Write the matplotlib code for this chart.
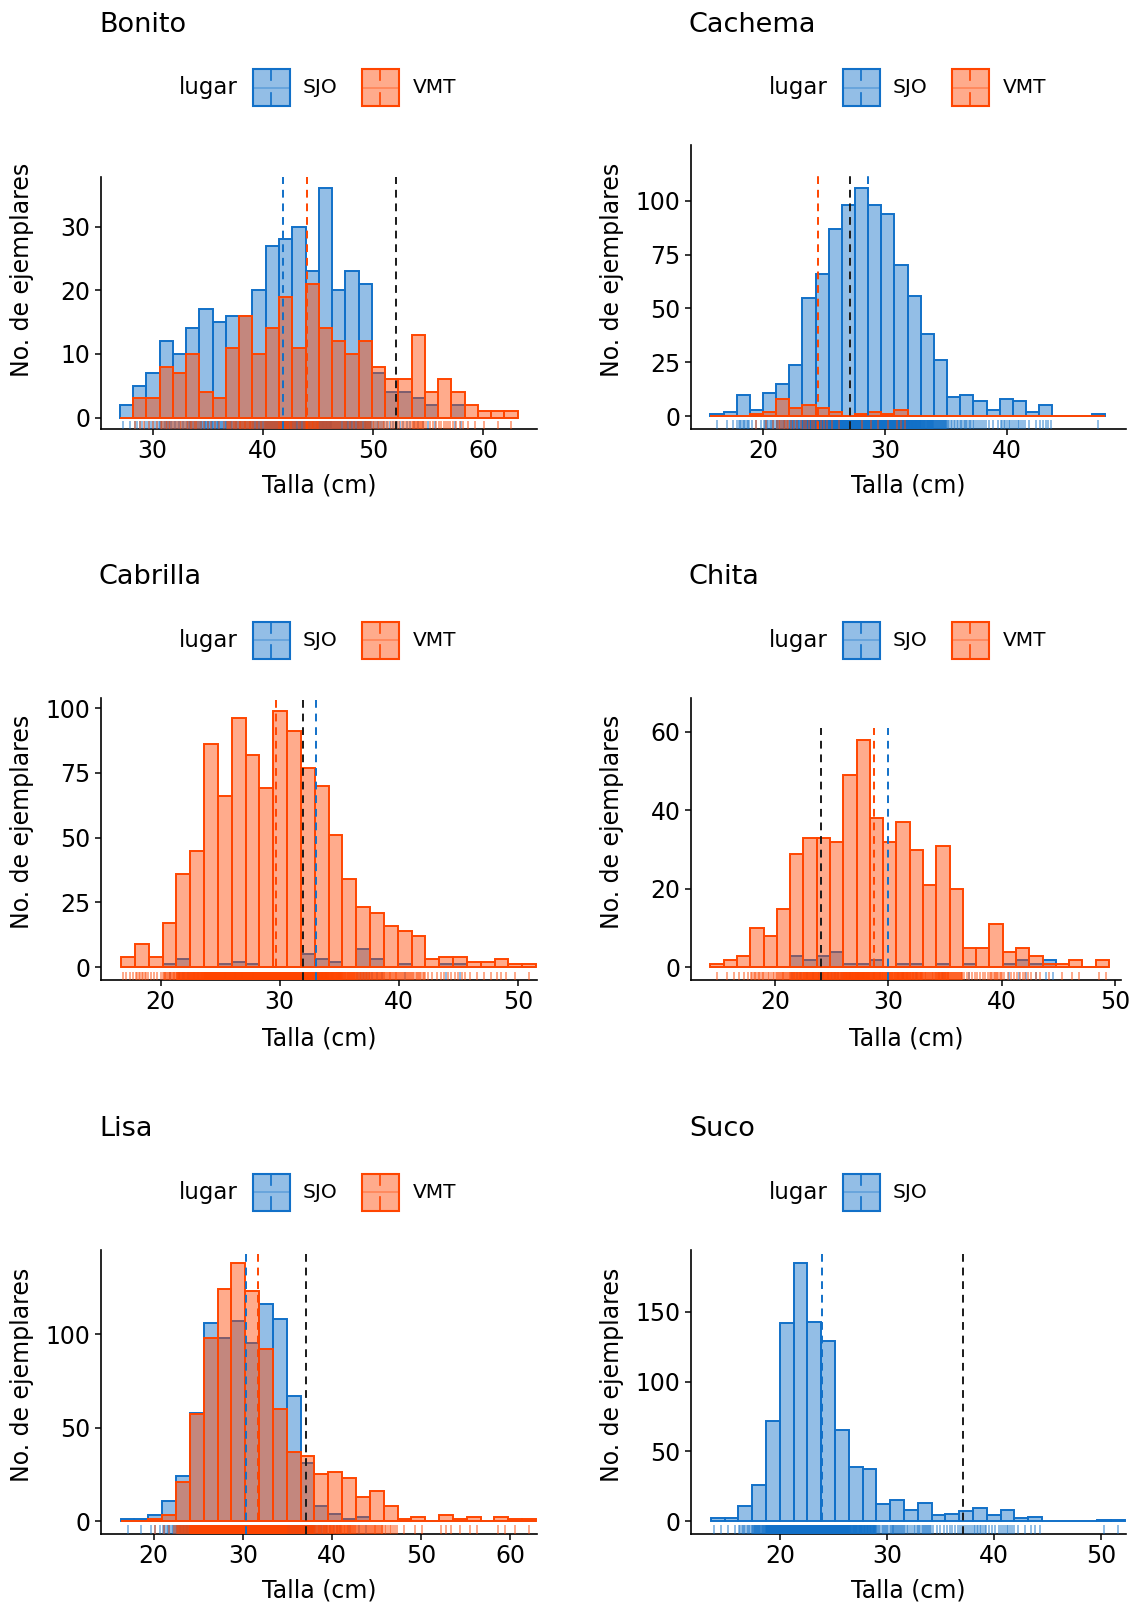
"""
Histogramas de talla por especie y lugar (SJO / VMT)
"""
import numpy as np
import matplotlib.pyplot as plt
from matplotlib.patches import Rectangle
from matplotlib.lines import Line2D

plt.rcParams['font.family'] = ['DejaVu Sans']

W, H = 1132, 1603  # px

especies = ['Bonito', 'Cachema', 'Cabrilla', 'Chita', 'Lisa', 'Suco']

# 30 bins per panel: left edge of the first bin and bin width (cm)
bin_inicio = [27.02, 15.64, 16.69, 14.31, 16.30, 13.55]
bin_ancho = [1.204, 1.081, 1.161, 1.171, 1.553, 1.288]

conteo_sjo = {
    'Bonito':   [2, 5, 7, 12, 10, 14, 17, 15, 16, 16, 20, 27, 28, 30, 23,
                 36, 20, 23, 21, 7, 4, 4, 3, 2, 0, 2, 0, 0, 0, 0],
    'Cachema':  [1, 2, 10, 3, 11, 15, 24, 55, 66, 87, 98, 106, 98, 94, 70,
                 56, 38, 26, 9, 10, 7, 3, 8, 7, 2, 5, 0, 0, 0, 1],
    'Cabrilla': [0, 0, 0, 1, 3, 0, 0, 1, 2, 1, 0, 0, 0, 5, 3,
                 2, 0, 7, 3, 0, 1, 0, 0, 1, 1, 0, 0, 0, 0, 0],
    'Chita':    [0, 0, 0, 0, 0, 0, 3, 2, 3, 4, 1, 1, 2, 0, 1,
                 1, 0, 1, 0, 1, 0, 0, 1, 2, 1, 2, 0, 0, 0, 0],
    'Lisa':     [1, 1, 3, 11, 24, 58, 106, 98, 107, 95, 116, 108, 67, 31, 8,
                 4, 1, 2, 0, 0, 0, 0, 0, 0, 0, 0, 0, 0, 0, 0],
    'Suco':     [2, 2, 11, 26, 72, 142, 185, 143, 129, 65, 39, 37, 12, 15, 8,
                 13, 4, 5, 7, 9, 4, 8, 2, 3, 0, 0, 0, 0, 1, 1],
}
conteo_vmt = {
    'Bonito':   [0, 3, 3, 8, 7, 10, 4, 3, 11, 16, 10, 14, 19, 11, 21,
                 14, 12, 10, 12, 8, 6, 6, 13, 4, 6, 4, 2, 1, 1, 1],
    'Cachema':  [0, 0, 0, 1, 2, 8, 4, 5, 4, 2, 0, 1, 2, 1, 3,
                 0, 0, 0, 0, 0, 0, 0, 0, 0, 0, 0, 0, 0, 0, 0],
    'Cabrilla': [4, 9, 4, 17, 36, 45, 86, 66, 96, 82, 69, 99, 91, 77, 70,
                 51, 34, 23, 21, 16, 14, 12, 3, 4, 4, 2, 2, 3, 1, 1],
    'Chita':    [1, 2, 3, 10, 8, 15, 29, 33, 33, 32, 49, 58, 38, 32, 37,
                 30, 21, 31, 20, 5, 5, 11, 4, 5, 3, 1, 1, 2, 0, 2],
    'Lisa':     [0, 0, 1, 3, 21, 57, 98, 124, 138, 123, 92, 60, 37, 35, 25,
                 26, 23, 13, 16, 8, 1, 2, 0, 3, 1, 2, 0, 2, 1, 1],
    'Suco':     None,
}

# dashed reference lines (cm)
media_sjo = [41.84, 28.62, 33.06, 29.92, 30.40, 23.95]
media_vmt = [44.01, 24.50, 29.72, 28.73, 31.73, None]
talla_ref = [52.12, 27.11, 31.98, 24.07, 37.07, 37.10]

xlims = [(25.3, 64.9), (14.05, 49.8), (15.0, 51.6), (12.6, 50.5), (14.1, 63.0), (11.7, 52.3)]
ylims = [(-1.8, 37.8), (-5.9, 125.8), (-5.0, 103.9), (-3.2, 68.6), (-6.9, 144.9), (-9.3, 194.3)]
ypaso = [10, 25, 25, 20, 50, 50]
ytope = [30, 100, 100, 60, 100, 150]

AZUL = '#1170C8'
NARANJA = '#FF4500'
ALFA = 0.45

# panel boxes in pixels: left, right, top, bottom
cajas = [(101, 537, 177, 429), (691, 1126, 145, 429),
         (101, 537, 698, 980), (691, 1121, 698, 980),
         (101, 537, 1250, 1534), (691, 1126, 1250, 1534)]
col_dx = [0, 590]
fila_dy = [0, 552.5, 1104.5]


def fx(x):
    return x / W


def fy(y):
    return 1 - y / H


def rug_pos(inicio, ancho, cuenta):
    # spread the observations of each bin evenly over that bin
    pos = []
    for i, n in enumerate(cuenta):
        if n:
            pos.extend(inicio + ancho * (i + (np.arange(n) + 0.5) / n))
    return np.array(pos)


def leyenda(fig, dx, dy, lugares):
    yc = 87.5 + dy
    fig.text(fx(179 + dx), fy(yc), 'lugar', fontsize=16.5, va='center', ha='left')
    claves = {'SJO': (252.7, 303, AZUL), 'VMT': (361.7, 413, NARANJA)}
    for lug in lugares:
        kx, tx, c = claves[lug]
        kx += dx
        s = 37
        fig.add_artist(Rectangle((fx(kx), fy(yc + s / 2)), s / W, s / H,
                                 transform=fig.transFigure, facecolor=c,
                                 alpha=ALFA, edgecolor='none'))
        fig.add_artist(Rectangle((fx(kx), fy(yc + s / 2)), s / W, s / H,
                                 transform=fig.transFigure, facecolor='none',
                                 edgecolor=c, lw=1.5))
        fig.add_artist(Line2D([fx(kx), fx(kx + s)], [fy(yc), fy(yc)],
                              transform=fig.transFigure, color=c, alpha=0.35, lw=1.3))
        for a, b in [(yc - s / 2, yc - s / 2 + 11), (yc + 5, yc + s / 2)]:
            fig.add_artist(Line2D([fx(kx + s / 2)] * 2, [fy(a), fy(b)],
                                  transform=fig.transFigure, color=c, lw=1.2))
        fig.text(fx(tx + dx), fy(yc), lug, fontsize=14.5, va='center', ha='left')


fig = plt.figure(figsize=(W / 100, H / 100), dpi=100)

for k, esp in enumerate(especies):
    fila, col = divmod(k, 2)
    dx, dy = col_dx[col], fila_dy[fila]
    L, R, T, B = cajas[k]
    ax = fig.add_axes([fx(L), fy(B), (R - L) / W, (B - T) / H])

    bordes = bin_inicio[k] + bin_ancho[k] * np.arange(30)
    series = [('SJO', conteo_sjo[esp], AZUL)]
    if conteo_vmt[esp] is not None:
        series.append(('VMT', conteo_vmt[esp], NARANJA))

    for lug, cuenta, c in series:
        ax.bar(bordes, cuenta, width=bin_ancho[k], align='edge',
               color=c, alpha=ALFA, edgecolor='none', zorder=2)
        ax.bar(bordes, cuenta, width=bin_ancho[k], align='edge',
               facecolor='none', edgecolor=c, lw=1.4, zorder=2)

    for lug, cuenta, c in series:
        pos = rug_pos(bin_inicio[k], bin_ancho[k], cuenta)
        ax.vlines(pos, 0, 0.03, transform=ax.get_xaxis_transform(),
                  colors=c, alpha=0.5, lw=1.3, zorder=3)

    tope = 1.05 * max(max(s[1]) for s in series)
    lineas = [(media_sjo[k], AZUL), (media_vmt[k], NARANJA), (talla_ref[k], '#1a1a1a')]
    for xv, c in lineas:
        if xv is None:
            continue
        ax.vlines(xv, ylims[k][0], tope, colors=c, lw=1.4,
                  linestyles=(0, (4, 3)), zorder=4)

    ax.set_xticks(np.arange(10, 70, 10))
    ax.set_xlim(xlims[k])
    ax.set_yticks(np.arange(0, ytope[k] + 1, ypaso[k]))
    ax.set_ylim(ylims[k])
    for s in ['top', 'right']:
        ax.spines[s].set_visible(False)
    for s in ['left', 'bottom']:
        ax.spines[s].set_linewidth(1.2)
    ax.tick_params(labelsize=17, length=4.5, width=1.1, pad=3, colors='black')

    fig.text(fx(99 + dx), fy(24.5 + dy), esp, fontsize=19.5, ha='left', va='center')
    leyenda(fig, dx, dy, [s[0] for s in series])
    fig.text(fx(22.5 + dx), fy([270, 822, 1375][fila]), 'No. de ejemplares',
             rotation=90, fontsize=17, ha='center', va='center')
    fig.text(fx((L + R) / 2), fy(486 + dy), 'Talla (cm)', fontsize=17,
             ha='center', va='center')

fig.savefig('out.png', dpi=100, facecolor='white')
